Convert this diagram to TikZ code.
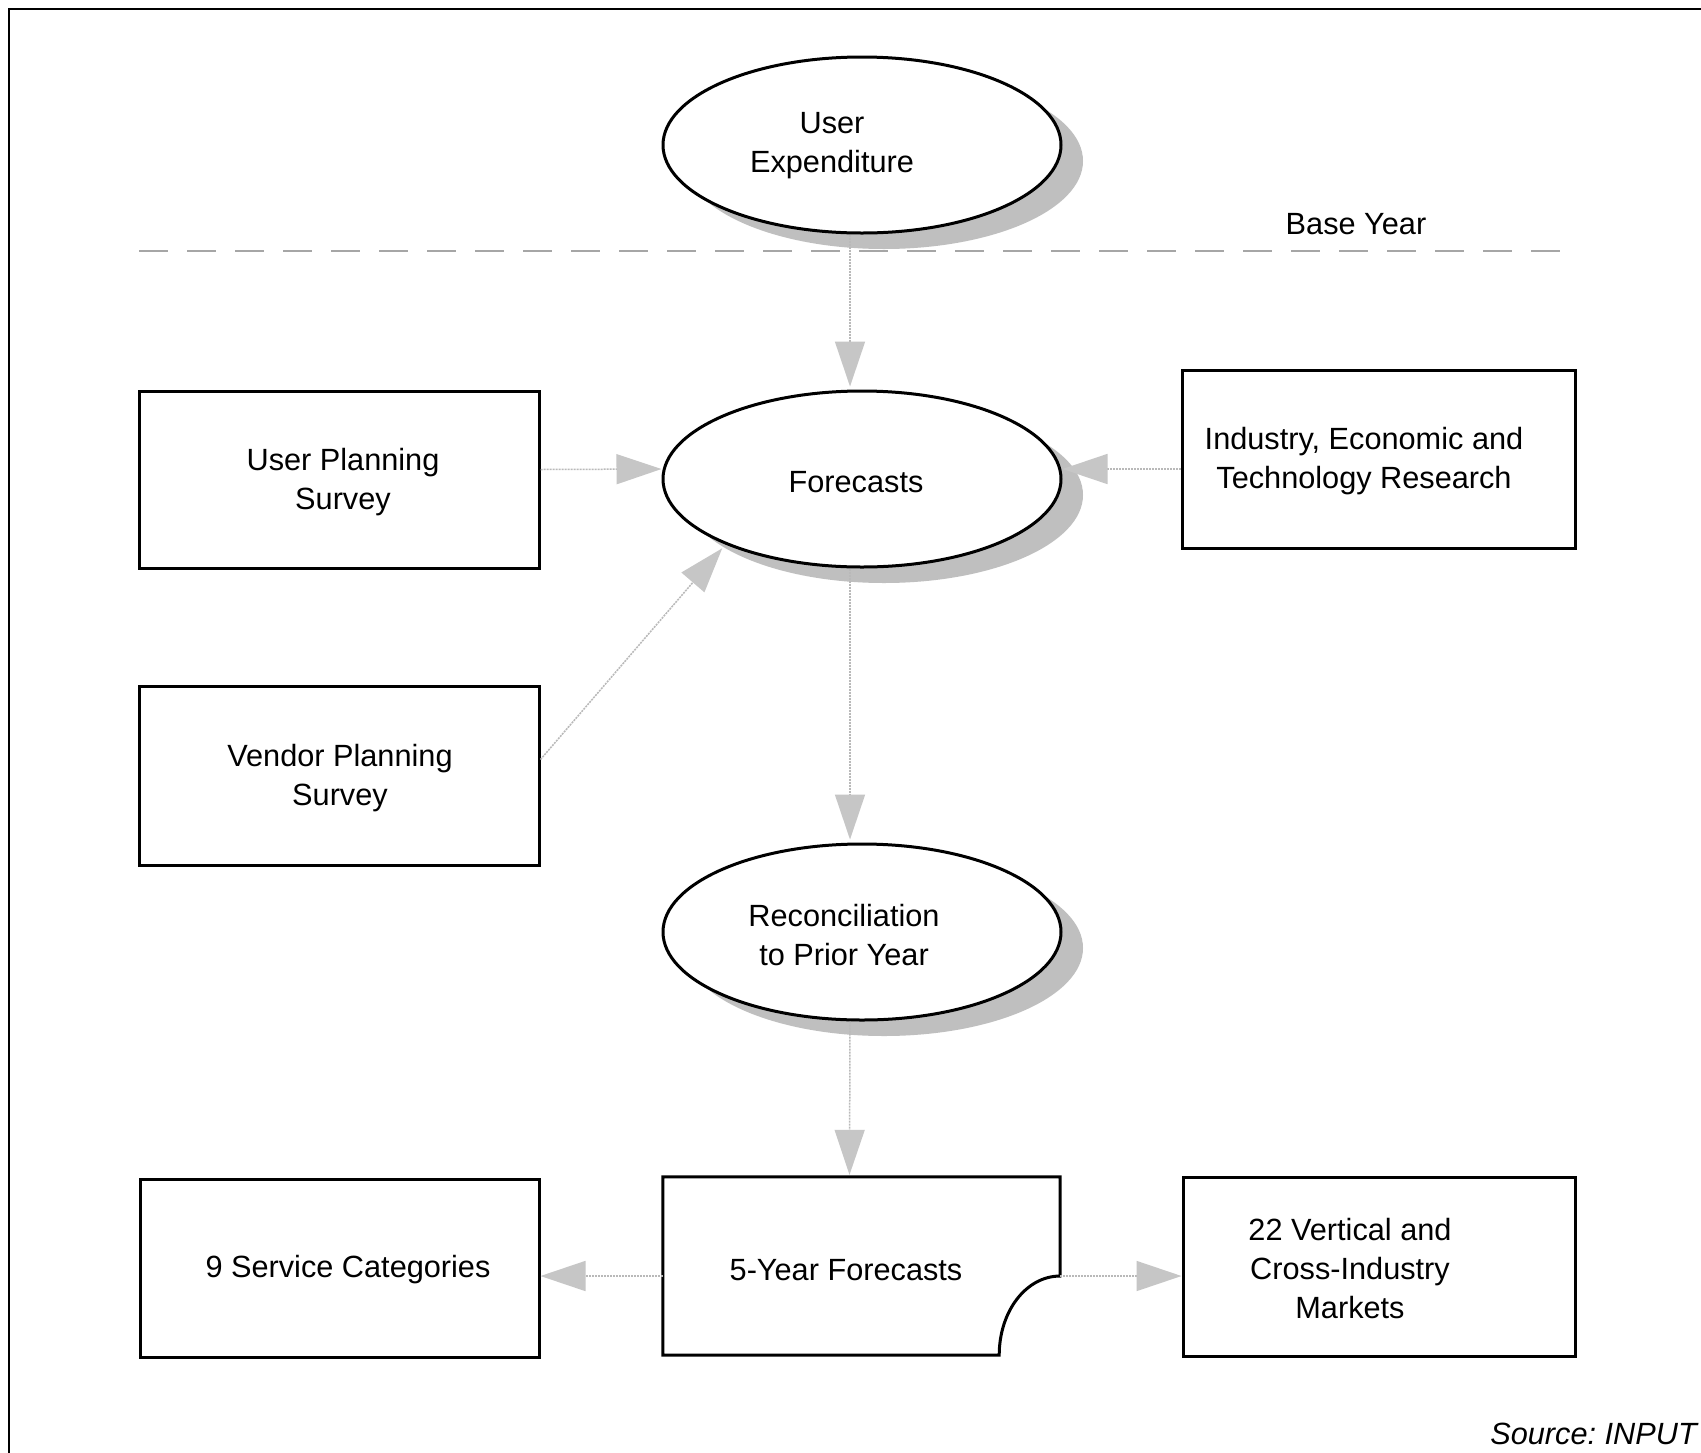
\documentclass[tikz,border=0pt]{standalone}
\usepackage{fontspec}
\setmainfont{Liberation Sans}
\usetikzlibrary{arrows.meta,shapes.geometric,shadows,calc}
\begin{document}
\begin{tikzpicture}[x=1pt,y=-1pt,
  txt/.style={font=\fontsize{30.7}{39}\selectfont\frenchspacing, align=center, inner sep=0pt},
  boxnode/.style={draw, line width=3pt, inner sep=0pt, fill=white},
  ovalnode/.style={ellipse, draw, line width=3pt, minimum width=398pt, minimum height=176pt, inner sep=0pt, fill=white,
     drop shadow={shadow xshift=22pt, shadow yshift=-16pt, fill=gray!50, opacity=1}},
  flow/.style={draw=gray!55, line width=1.5pt, dash pattern=on 2pt off 1pt,
     -{Triangle[length=45pt,width=30pt,color=gray!45,fill=gray!45]}},
  baseline/.style={draw=gray!70, line width=1.5pt, dash pattern=on 29pt off 19pt},
  frame/.style={draw=black, line width=2.2pt}
]
\useasboundingbox (0,0) rectangle (1701,1452);
\fill[white] (0,0) rectangle (1701,1452);
\draw[frame] (1720,9) -- (9,9) -- (9,1470);

% base year line
\coordinate (bl) at (139,251);
\coordinate (br) at (1576,251);
\draw[baseline] (bl) -- (br);
\node[txt] (by) at (1356,224) {Base Year};

% ellipses
\node[ovalnode] (ue) at (862,145) {};
\node[txt] (uet) at (832,146) {User\\Expenditure};
\node[ovalnode] (fc) at (862,479) {};
\node[txt] (fct) at (856,482) {Forecasts};
\node[ovalnode] (rc) at (862,932) {};
\node[txt] (rct) at (844,935) {Reconciliation\\to Prior Year};

% boxes
\node[boxnode, minimum width=400pt, minimum height=177pt] (ups) at (339,479.5) {};
\node[txt] (upst) at (343,482) {User Planning\\Survey};
\node[boxnode, minimum width=400pt, minimum height=179pt] (vps) at (339,775.5) {};
\node[txt] (vpst) at (340,778) {Vendor Planning\\Survey};
\node[boxnode, minimum width=393pt, minimum height=178pt] (ind) at (1378.5,459) {};
\node[txt] (indt) at (1364,461) {Industry, Economic and\\Technology Research};
\node[boxnode, minimum width=399pt, minimum height=178pt] (nsc) at (339.5,1268) {};
\node[txt] (nsct) at (348,1270) {9 Service Categories};
\node[inner sep=0pt, minimum width=397pt, minimum height=178pt] (fy) at (861.5,1266) {};
\draw[line width=3pt, line join=miter] (fy.north west) -- (fy.north east) -- ($(fy.east)+(0,10)$)
   .. controls +(-34,0) and +(0,-44) .. ($(fy.south east)+(-61,0)$) -- (fy.south west) -- cycle;
\node[txt] (fyt) at (846,1270) {5-Year Forecasts};
\node[boxnode, minimum width=392pt, minimum height=179pt] (vm) at (1379,1266.5) {};
\node[txt] (vmt) at (1350,1269) {22 Vertical and\\Cross-Industry\\Markets};

% source
\node[txt, anchor=east, font=\fontsize{30.7}{39}\selectfont\frenchspacing\itshape] (src) at (1697,1434) {Source: INPUT};

% connectors
\draw[flow] ([xshift=-12pt]ue.south) -- ([xshift=-12pt,yshift=3pt]fc.north);
\draw[flow] ([xshift=-12pt]fc.south) -- ([xshift=-12pt,yshift=3pt]rc.north);
\draw[flow] ([xshift=-12pt]rc.south) -- ([xshift=-12pt,yshift=2pt]fy.north);
\draw[flow] ([yshift=10pt]ups.east) -- ([yshift=10pt]fc.west);
\draw[flow] ([yshift=-10pt]ind.west) -- ([yshift=10pt]fc.east);
\draw[flow] ([yshift=16pt]vps.east) -- ([xshift=2pt,yshift=-6pt]fc.south west);
\coordinate (fyw) at ([yshift=-10pt]fy.west);
\coordinate (fye) at ([yshift=-10pt]fy.east);
\draw[flow] (fyw) -- (fyw -| nsc.east);
\draw[flow] (fye) -- (fye -| vm.west);
\end{tikzpicture}
\end{document}
